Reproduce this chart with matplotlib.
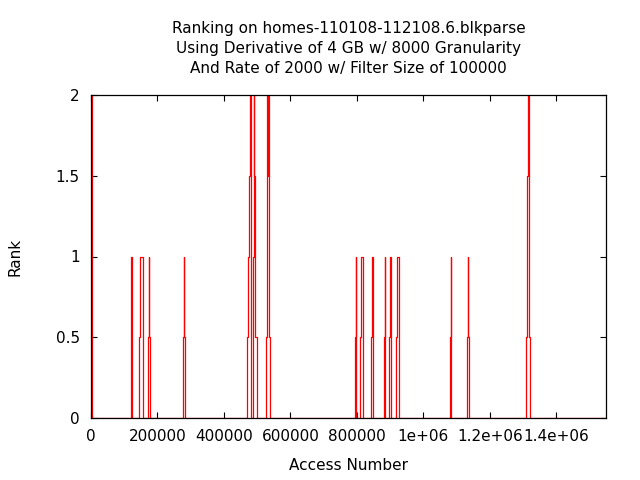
import numpy as np
import matplotlib
matplotlib.use("Agg")
import matplotlib.pyplot as plt

# access number where the rank changes, and the rank held from there on
access = [0, 3000,
          120300, 121300, 122400, 124200,
          145300, 147400, 157300,
          172300, 174400, 175300, 178300,
          277600, 279700, 280600, 281800,
          470100, 473100, 476100, 478200, 480300, 482300,
          488100, 489300, 491300, 493400, 494400, 498400,
          526300, 528300, 530300, 532300, 533300, 534400, 539200,
          794000, 797000, 798000,
          810000, 812000, 819000,
          842100, 845100, 849000,
          881200, 884200, 886300,
          897100, 900100, 902200,
          918200, 921200, 927200,
          1080600, 1083600, 1084800,
          1131700, 1134700, 1135900, 1137700,
          1310400, 1312200, 1315200, 1318200, 1319400, 1321200,
          1550000]
rank = [2, 0,
        0.5, 1, 0.5, 0,
        0.5, 1, 0,
        0.5, 1, 0.5, 0,
        0.5, 1, 0.5, 0,
        0.5, 1, 1.5, 2, 0.5, 0,
        1, 2, 1.5, 1, 0.5, 0,
        0.5, 1, 2, 1.5, 2, 0.5, 0,
        0.5, 1, 0,
        0.5, 1, 0,
        0.5, 1, 0,
        0.5, 1, 0,
        0.5, 1, 0,
        0.5, 1, 0,
        0.5, 1, 0,
        0.5, 1, 0.5, 0,
        0.5, 1.5, 2, 1.5, 0.5, 0,
        0]

xticks = [0, 200000, 400000, 600000, 800000, 1000000, 1200000, 1400000]
xtick_labels = ["0", "200000", "400000", "600000", "800000",
                "1e+06", "1.2e+06", "1.4e+06"]
yticks = [0, 0.5, 1, 1.5, 2]
ytick_labels = ["0", "0.5", "1", "1.5", "2"]

title = ("Ranking on homes-110108-112108.6.blkparse\n"
         "Using Derivative of 4 GB w/ 8000 Granularity\n"
         "And Rate of 2000 w/ Filter Size of 100000")

plt.rcParams["font.family"] = ["DejaVu Sans"]
fig = plt.figure(figsize=(6.4, 4.8), dpi=100)
ax = fig.add_axes([91 / 640, 1 - 418 / 480, 515 / 640, 323 / 480])

ax.plot(access, rank, color="red", linewidth=0.9, drawstyle="steps-post")

ax.set_xlim(0, 1550000)
ax.set_ylim(0, 2)
ax.set_xticks(xticks)
ax.set_xticklabels(xtick_labels)
ax.set_yticks(yticks)
ax.set_yticklabels(ytick_labels)
ax.tick_params(direction="in", length=4, width=0.8, top=True, right=True,
               labelsize=11, pad=8, colors="black")
for s in ax.spines.values():
    s.set_linewidth(0.9)

ax.set_title(title, fontsize=11, pad=16, linespacing=1.42)
ax.set_xlabel("Access Number", fontsize=11, labelpad=10)
ax.set_ylabel("Rank", fontsize=11, labelpad=24)

fig.savefig("out.png", dpi=100)
